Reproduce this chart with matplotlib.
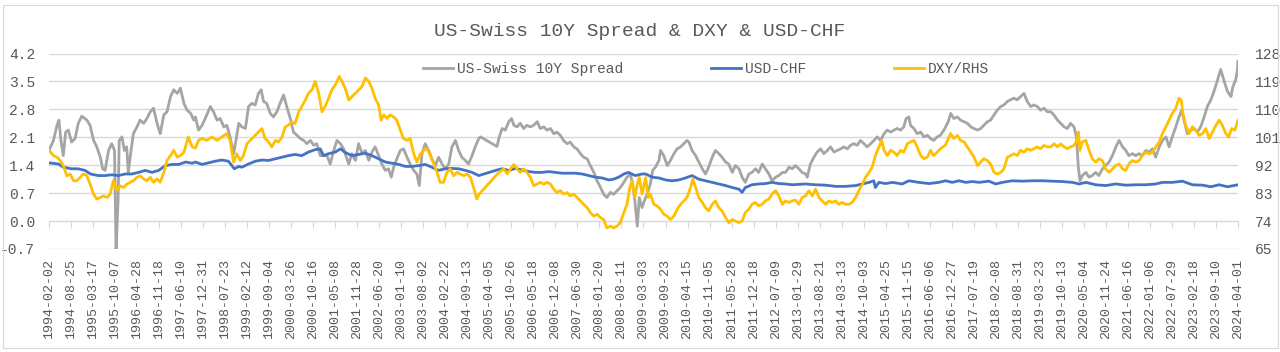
import numpy as np
import pandas as pd
import matplotlib
matplotlib.use("Agg")
import matplotlib.pyplot as plt
from matplotlib.patches import Rectangle

# Du lieu doc tu hinh (nam thap phan -> gia tri)
spread_t = [1994.088, 1994.20, 1994.29, 1994.34, 1994.39, 1994.45, 1994.51, 1994.58, 1994.66, 1994.75,
            1994.83, 1994.92, 1995.05, 1995.13, 1995.22, 1995.30, 1995.39, 1995.45, 1995.51, 1995.60,
            1995.68, 1995.75, 1995.79, 1995.84, 1995.87, 1995.94, 1996.00, 1996.06, 1996.10, 1996.17,
            1996.23, 1996.32, 1996.40, 1996.49, 1996.57, 1996.66, 1996.74, 1996.83, 1996.91, 1997.00,
            1997.08, 1997.17, 1997.25, 1997.34, 1997.42, 1997.51, 1997.59, 1997.68, 1997.76, 1997.80,
            1997.88, 1997.97, 1998.05, 1998.18, 1998.26, 1998.35, 1998.43, 1998.52, 1998.60, 1998.68,
            1998.77, 1998.83, 1998.90, 1998.98, 1999.07, 1999.15, 1999.23, 1999.32, 1999.40, 1999.47,
            1999.53, 1999.61, 1999.70, 1999.78, 1999.87, 1999.95, 2000.04, 2000.12, 2000.21, 2000.29,
            2000.38, 2000.46, 2000.55, 2000.63, 2000.72, 2000.80, 2000.88, 2000.97, 2001.05, 2001.14,
            2001.22, 2001.31, 2001.39, 2001.48, 2001.56, 2001.60, 2001.69, 2001.77, 2001.86, 2001.94,
            2002.03, 2002.11, 2002.20, 2002.28, 2002.36, 2002.45, 2002.53, 2002.62, 2002.70, 2002.77,
            2002.83, 2002.91, 2003.00, 2003.08, 2003.17, 2003.25, 2003.34, 2003.42, 2003.48, 2003.55,
            2003.63, 2003.72, 2003.80, 2003.89, 2003.97, 2004.06, 2004.14, 2004.23, 2004.31, 2004.40,
            2004.48, 2004.56, 2004.65, 2004.73, 2004.82, 2004.90, 2004.99, 2005.03, 2005.45, 2005.51,
            2005.58, 2005.66, 2005.75, 2005.82, 2005.88, 2005.96, 2006.04, 2006.13, 2006.21, 2006.30,
            2006.38, 2006.47, 2006.55, 2006.64, 2006.72, 2006.81, 2006.89, 2006.97, 2007.06, 2007.14,
            2007.23, 2007.31, 2007.40, 2007.48, 2007.57, 2007.65, 2007.74, 2007.82, 2007.91, 2007.99,
            2008.08, 2008.16, 2008.24, 2008.33, 2008.41, 2008.50, 2008.58, 2008.67, 2008.75, 2008.84,
            2008.89, 2008.95, 2009.01, 2009.06, 2009.13, 2009.22, 2009.29, 2009.34, 2009.40, 2009.47,
            2009.56, 2009.60, 2009.68, 2009.77, 2009.85, 2009.94, 2010.02, 2010.11, 2010.19, 2010.27,
            2010.32, 2010.40, 2010.49, 2010.57, 2010.66, 2010.74, 2010.82, 2010.91, 2010.99, 2011.08,
            2011.16, 2011.25, 2011.33, 2011.42, 2011.50, 2011.59, 2011.67, 2011.75, 2011.84, 2011.92,
            2012.01, 2012.09, 2012.18, 2012.26, 2012.35, 2012.43, 2012.52, 2012.60, 2012.69, 2012.77,
            2012.86, 2012.94, 2013.02, 2013.11, 2013.19, 2013.28, 2013.32, 2013.40, 2013.49, 2013.57,
            2013.66, 2013.74, 2013.83, 2013.91, 2014.00, 2014.08, 2014.17, 2014.25, 2014.34, 2014.42,
            2014.50, 2014.59, 2014.67, 2014.76, 2014.84, 2014.93, 2015.01, 2015.10, 2015.18, 2015.27,
            2015.35, 2015.44, 2015.52, 2015.60, 2015.69, 2015.77, 2015.83, 2015.90, 2015.94, 2016.03,
            2016.11, 2016.20, 2016.28, 2016.37, 2016.45, 2016.53, 2016.62, 2016.70, 2016.79, 2016.90,
            2016.96, 2017.04, 2017.13, 2017.21, 2017.30, 2017.38, 2017.47, 2017.55, 2017.64, 2017.72,
            2017.80, 2017.89, 2017.97, 2018.06, 2018.14, 2018.23, 2018.31, 2018.40, 2018.48, 2018.56,
            2018.65, 2018.73, 2018.82, 2018.90, 2018.99, 2019.07, 2019.16, 2019.24, 2019.33, 2019.41,
            2019.50, 2019.58, 2019.67, 2019.75, 2019.84, 2019.92, 2020.00, 2020.09, 2020.15, 2020.20,
            2020.24, 2020.30, 2020.39, 2020.47, 2020.55, 2020.64, 2020.72, 2020.81, 2020.89, 2020.98,
            2021.06, 2021.15, 2021.23, 2021.32, 2021.40, 2021.48, 2021.57, 2021.65, 2021.74, 2021.82,
            2021.91, 2021.99, 2022.08, 2022.16, 2022.25, 2022.33, 2022.42, 2022.50, 2022.58, 2022.67,
            2022.75, 2022.82, 2022.88, 2022.96, 2023.05, 2023.13, 2023.22, 2023.30, 2023.39, 2023.47,
            2023.56, 2023.64, 2023.73, 2023.81, 2023.90, 2023.98, 2024.07, 2024.12, 2024.19, 2024.23,
            2024.25]
spread_v = [1.77, 2.02, 2.40, 2.53, 2.02, 1.64, 2.23, 2.28, 1.98, 2.07,
            2.45, 2.63, 2.53, 2.40, 2.02, 1.86, 1.60, 1.31, 1.27, 1.77,
            1.94, 1.77, -0.75, 0.51, 2.02, 2.11, 1.77, 1.86, 1.22, 1.77,
            2.19, 2.36, 2.53, 2.45, 2.57, 2.74, 2.83, 2.45, 2.19, 2.66,
            2.74, 3.12, 3.29, 3.20, 3.33, 2.95, 2.78, 2.70, 2.53, 2.61,
            2.28, 2.40, 2.57, 2.87, 2.74, 2.53, 2.57, 2.36, 2.40, 2.11,
            1.69, 2.02, 2.45, 2.36, 2.32, 2.87, 2.95, 2.91, 3.20, 3.29,
            3.00, 2.95, 2.70, 2.61, 2.74, 2.95, 3.16, 2.87, 2.57, 2.23,
            2.15, 2.07, 2.02, 1.94, 2.02, 1.90, 1.94, 1.64, 1.64, 1.64,
            1.43, 1.77, 2.02, 1.94, 1.81, 1.69, 1.43, 1.69, 1.52, 1.94,
            1.69, 1.77, 1.52, 1.73, 1.86, 1.64, 1.43, 1.27, 1.31, 1.10,
            1.35, 1.56, 1.77, 1.81, 1.60, 1.43, 1.27, 1.18, 0.89, 1.69,
            1.94, 1.77, 1.56, 1.39, 1.60, 1.43, 1.31, 1.43, 1.86, 2.02,
            1.77, 1.60, 1.52, 1.43, 1.64, 1.86, 2.07, 2.11, 1.87, 2.11,
            2.32, 2.28, 2.49, 2.57, 2.40, 2.36, 2.45, 2.32, 2.40, 2.36,
            2.40, 2.49, 2.32, 2.36, 2.28, 2.32, 2.19, 2.23, 2.15, 2.02,
            1.94, 1.98, 1.86, 1.81, 1.69, 1.60, 1.56, 1.39, 1.22, 1.01,
            0.84, 0.67, 0.59, 0.72, 0.67, 0.76, 0.84, 0.97, 1.10, 1.18,
            0.93, 0.51, -0.13, 0.59, 0.34, 0.59, 0.76, 0.93, 1.27, 1.35,
            1.52, 1.77, 1.64, 1.39, 1.52, 1.69, 1.81, 1.86, 1.94, 2.02,
            1.98, 1.77, 1.64, 1.48, 1.31, 1.18, 1.35, 1.60, 1.77, 1.69,
            1.60, 1.48, 1.43, 1.22, 1.39, 1.31, 1.10, 0.97, 1.18, 1.22,
            1.31, 1.22, 1.43, 1.31, 1.18, 1.01, 1.10, 1.14, 1.22, 1.22,
            1.35, 1.31, 1.39, 1.31, 1.22, 1.18, 1.10, 1.43, 1.60, 1.73,
            1.81, 1.69, 1.77, 1.86, 1.73, 1.77, 1.81, 1.86, 1.81, 1.90,
            1.94, 1.90, 2.02, 1.94, 1.86, 1.94, 2.02, 2.11, 2.02, 2.19,
            2.28, 2.23, 2.28, 2.32, 2.28, 2.36, 2.57, 2.61, 2.40, 2.32,
            2.19, 2.23, 2.11, 2.15, 2.07, 2.02, 2.11, 2.15, 2.28, 2.49,
            2.70, 2.57, 2.61, 2.53, 2.49, 2.45, 2.36, 2.32, 2.28, 2.32,
            2.40, 2.49, 2.53, 2.66, 2.78, 2.87, 2.91, 3.00, 3.04, 3.08,
            3.04, 3.12, 3.20, 3.00, 2.87, 2.91, 2.87, 2.78, 2.83, 2.74,
            2.74, 2.66, 2.53, 2.45, 2.36, 2.32, 2.45, 2.36, 2.11, 1.35,
            1.01, 1.14, 1.22, 1.10, 1.14, 1.22, 1.14, 1.31, 1.39, 1.48,
            1.64, 1.86, 2.02, 1.86, 1.77, 1.64, 1.69, 1.64, 1.69, 1.64,
            1.77, 1.73, 1.81, 1.60, 1.86, 2.02, 2.11, 1.86, 2.11, 2.36,
            2.61, 2.78, 2.53, 2.19, 2.28, 2.32, 2.23, 2.36, 2.61, 2.87,
            3.04, 3.25, 3.54, 3.80, 3.50, 3.25, 3.12, 3.37, 3.54, 3.75,
            4.01]

chf_t = [1994.088, 1994.33, 1994.45, 1994.66, 1994.83, 1995.00, 1995.14, 1995.34, 1995.51, 1995.68,
         1995.85, 1996.02, 1996.19, 1996.36, 1996.53, 1996.70, 1996.87, 1997.04, 1997.21, 1997.38,
         1997.55, 1997.72, 1997.80, 1997.97, 1998.13, 1998.30, 1998.47, 1998.64, 1998.79, 1998.90,
         1998.98, 1999.15, 1999.32, 1999.49, 1999.66, 1999.83, 2000.00, 2000.16, 2000.33, 2000.50,
         2000.67, 2000.84, 2000.97, 2001.05, 2001.18, 2001.35, 2001.48, 2001.60, 2001.77, 2001.94,
         2002.11, 2002.28, 2002.45, 2002.62, 2002.79, 2002.96, 2003.13, 2003.30, 2003.46, 2003.63,
         2003.80, 2003.97, 2004.14, 2004.31, 2004.48, 2004.65, 2004.82, 2004.99, 2005.45, 2005.58,
         2005.75, 2005.92, 2006.09, 2006.26, 2006.43, 2006.59, 2006.76, 2006.93, 2007.10, 2007.27,
         2007.44, 2007.61, 2007.78, 2007.95, 2008.12, 2008.29, 2008.41, 2008.54, 2008.67, 2008.79,
         2008.96, 2009.13, 2009.22, 2009.39, 2009.56, 2009.73, 2009.89, 2010.06, 2010.23, 2010.40,
         2010.57, 2010.74, 2010.91, 2011.08, 2011.25, 2011.42, 2011.59, 2011.67, 2011.75, 2011.92,
         2012.09, 2012.26, 2012.43, 2012.60, 2012.77, 2012.94, 2013.28, 2013.53, 2013.79, 2014.04,
         2014.29, 2014.55, 2014.72, 2014.89, 2015.01, 2015.05, 2015.14, 2015.31, 2015.48, 2015.73,
         2015.90, 2016.15, 2016.41, 2016.66, 2016.83, 2017.00, 2017.17, 2017.34, 2017.51, 2017.68,
         2017.93, 2018.10, 2018.27, 2018.52, 2018.78, 2019.03, 2019.29, 2019.54, 2019.79, 2020.05,
         2020.22, 2020.39, 2020.55, 2020.64, 2020.89, 2021.15, 2021.40, 2021.65, 2021.91, 2022.16,
         2022.33, 2022.58, 2022.84, 2023.09, 2023.35, 2023.56, 2023.77, 2023.98, 2024.25]
chf_v = [1.46, 1.43, 1.35, 1.31, 1.31, 1.27, 1.18, 1.14, 1.14, 1.16,
         1.14, 1.18, 1.18, 1.22, 1.27, 1.22, 1.27, 1.39, 1.42, 1.42,
         1.48, 1.45, 1.48, 1.42, 1.46, 1.50, 1.53, 1.50, 1.31, 1.37,
         1.35, 1.43, 1.50, 1.53, 1.52, 1.56, 1.60, 1.64, 1.67, 1.64,
         1.73, 1.79, 1.81, 1.64, 1.69, 1.73, 1.81, 1.72, 1.64, 1.67,
         1.70, 1.64, 1.56, 1.48, 1.45, 1.42, 1.37, 1.37, 1.39, 1.42,
         1.35, 1.27, 1.31, 1.32, 1.31, 1.27, 1.22, 1.14, 1.28, 1.31,
         1.27, 1.32, 1.28, 1.24, 1.22, 1.22, 1.24, 1.22, 1.20, 1.20,
         1.20, 1.18, 1.14, 1.10, 1.08, 1.03, 1.05, 1.10, 1.18, 1.22,
         1.14, 1.18, 1.18, 1.10, 1.08, 1.03, 1.01, 1.03, 1.08, 1.14,
         1.05, 1.01, 0.97, 0.93, 0.89, 0.84, 0.80, 0.72, 0.84, 0.91,
         0.93, 0.94, 0.97, 0.94, 0.93, 0.91, 0.93, 0.91, 0.90, 0.87,
         0.87, 0.89, 0.93, 0.97, 1.01, 0.84, 0.97, 0.94, 0.97, 0.93,
         1.01, 0.97, 0.94, 0.97, 1.01, 0.97, 1.01, 0.97, 0.99, 0.97,
         1.00, 0.93, 0.97, 1.01, 1.00, 1.01, 1.01, 1.00, 0.99, 0.97,
         0.93, 0.97, 0.93, 0.91, 0.89, 0.93, 0.90, 0.91, 0.91, 0.93,
         0.97, 0.97, 1.00, 0.91, 0.90, 0.86, 0.91, 0.86, 0.91]

dxy_t = [1994.088, 1994.20, 1994.29, 1994.37, 1994.45, 1994.54, 1994.62, 1994.71, 1994.79, 1994.88,
         1994.96, 1995.05, 1995.13, 1995.22, 1995.30, 1995.39, 1995.47, 1995.56, 1995.64, 1995.72,
         1995.81, 1995.89, 1995.98, 1996.06, 1996.15, 1996.23, 1996.32, 1996.40, 1996.49, 1996.57,
         1996.66, 1996.74, 1996.83, 1996.91, 1997.00, 1997.08, 1997.17, 1997.25, 1997.34, 1997.42,
         1997.51, 1997.62, 1997.72, 1997.80, 1997.88, 1997.97, 1998.09, 1998.22, 1998.35, 1998.47,
         1998.60, 1998.68, 1998.77, 1998.85, 1998.94, 1999.02, 1999.11, 1999.19, 1999.28, 1999.36,
         1999.49, 1999.57, 1999.66, 1999.74, 1999.83, 1999.91, 2000.00, 2000.08, 2000.16, 2000.25,
         2000.33, 2000.42, 2000.50, 2000.59, 2000.67, 2000.76, 2000.84, 2000.93, 2001.01, 2001.09,
         2001.18, 2001.26, 2001.35, 2001.45, 2001.52, 2001.60, 2001.69, 2001.77, 2001.90, 2002.03,
         2002.11, 2002.20, 2002.28, 2002.36, 2002.45, 2002.51, 2002.58, 2002.66, 2002.74, 2002.83,
         2002.91, 2003.00, 2003.08, 2003.17, 2003.25, 2003.34, 2003.42, 2003.51, 2003.59, 2003.68,
         2003.76, 2003.85, 2003.93, 2004.01, 2004.10, 2004.18, 2004.27, 2004.35, 2004.44, 2004.52,
         2004.61, 2004.69, 2004.78, 2004.86, 2004.94, 2005.00, 2005.50, 2005.62, 2005.71, 2005.79,
         2005.88, 2005.96, 2006.04, 2006.13, 2006.21, 2006.30, 2006.38, 2006.47, 2006.55, 2006.64,
         2006.72, 2006.81, 2006.89, 2006.97, 2007.06, 2007.14, 2007.23, 2007.31, 2007.40, 2007.48,
         2007.57, 2007.65, 2007.74, 2007.82, 2007.91, 2007.99, 2008.08, 2008.16, 2008.24, 2008.33,
         2008.41, 2008.50, 2008.58, 2008.67, 2008.75, 2008.82, 2008.88, 2008.95, 2009.01, 2009.06,
         2009.13, 2009.22, 2009.29, 2009.34, 2009.43, 2009.51, 2009.60, 2009.68, 2009.77, 2009.85,
         2009.94, 2010.02, 2010.11, 2010.19, 2010.27, 2010.36, 2010.42, 2010.49, 2010.57, 2010.66,
         2010.74, 2010.82, 2010.91, 2010.99, 2011.08, 2011.16, 2011.25, 2011.33, 2011.42, 2011.50,
         2011.59, 2011.67, 2011.75, 2011.84, 2011.92, 2012.01, 2012.09, 2012.18, 2012.26, 2012.35,
         2012.43, 2012.52, 2012.60, 2012.69, 2012.77, 2012.86, 2012.94, 2013.02, 2013.11, 2013.19,
         2013.28, 2013.36, 2013.45, 2013.53, 2013.62, 2013.70, 2013.79, 2013.87, 2013.95, 2014.04,
         2014.12, 2014.21, 2014.29, 2014.38, 2014.46, 2014.55, 2014.63, 2014.72, 2014.80, 2014.89,
         2014.97, 2015.05, 2015.14, 2015.21, 2015.27, 2015.35, 2015.44, 2015.52, 2015.60, 2015.69,
         2015.77, 2015.86, 2015.94, 2016.03, 2016.11, 2016.20, 2016.28, 2016.37, 2016.45, 2016.53,
         2016.62, 2016.70, 2016.83, 2016.90, 2016.96, 2017.04, 2017.13, 2017.21, 2017.30, 2017.38,
         2017.47, 2017.55, 2017.64, 2017.72, 2017.80, 2017.89, 2017.97, 2018.06, 2018.14, 2018.23,
         2018.31, 2018.40, 2018.48, 2018.56, 2018.65, 2018.73, 2018.82, 2018.90, 2018.99, 2019.07,
         2019.16, 2019.24, 2019.33, 2019.41, 2019.50, 2019.58, 2019.67, 2019.75, 2019.84, 2019.92,
         2020.00, 2020.09, 2020.16, 2020.20, 2020.24, 2020.30, 2020.39, 2020.47, 2020.55, 2020.64,
         2020.72, 2020.81, 2020.89, 2020.98, 2021.06, 2021.15, 2021.23, 2021.32, 2021.40, 2021.48,
         2021.57, 2021.65, 2021.74, 2021.82, 2021.91, 2021.99, 2022.08, 2022.16, 2022.25, 2022.33,
         2022.42, 2022.50, 2022.58, 2022.67, 2022.75, 2022.81, 2022.85, 2022.92, 2023.01, 2023.09,
         2023.18, 2023.26, 2023.35, 2023.43, 2023.52, 2023.60, 2023.69, 2023.77, 2023.85, 2023.94,
         2024.01, 2024.09, 2024.17, 2024.25]
dxy_v = [96.8, 95.1, 94.6, 93.5, 91.9, 88.6, 89.2, 87.0, 87.0, 88.1,
         89.2, 88.6, 85.9, 82.7, 81.1, 81.6, 82.1, 81.6, 82.7, 87.0,
         83.8, 85.4, 84.8, 85.9, 86.5, 87.0, 88.1, 88.6, 87.6, 87.0,
         88.1, 86.5, 87.6, 86.5, 89.7, 93.5, 95.1, 96.8, 94.6, 95.1,
         96.2, 101.1, 97.9, 97.5, 100.0, 100.6, 100.0, 101.1, 100.0, 101.1,
         102.2, 100.0, 93.0, 95.7, 93.5, 95.1, 98.9, 100.0, 101.1, 102.2,
         103.8, 100.6, 99.5, 97.9, 100.0, 99.5, 101.1, 104.3, 104.9, 106.0,
         105.4, 109.2, 110.9, 113.0, 115.2, 116.3, 119.0, 115.2, 109.2, 110.9,
         113.6, 116.3, 117.9, 120.6, 119.0, 116.8, 113.0, 114.1, 115.7, 117.4,
         120.1, 119.0, 116.8, 113.6, 111.4, 106.5, 108.2, 107.1, 108.2, 107.6,
         106.5, 103.3, 100.6, 100.0, 100.6, 95.7, 93.0, 95.7, 96.8, 97.3,
         95.1, 92.4, 89.7, 86.5, 86.5, 89.7, 90.8, 88.6, 89.7, 89.2,
         88.6, 89.2, 88.1, 84.8, 81.1, 82.7, 89.7, 90.8, 89.2, 90.8,
         92.2, 90.8, 89.7, 90.8, 89.7, 88.1, 85.4, 85.9, 86.5, 85.9,
         86.5, 85.9, 84.3, 83.2, 83.8, 82.7, 83.2, 82.1, 82.7, 81.6,
         80.5, 79.4, 78.3, 76.7, 75.6, 76.2, 75.1, 74.5, 71.8, 72.4,
         71.8, 72.4, 73.5, 76.7, 79.4, 84.8, 87.0, 81.6, 85.9, 88.1,
         82.7, 88.0, 81.6, 82.7, 79.4, 78.9, 77.8, 76.2, 75.6, 74.5,
         75.6, 77.8, 79.4, 80.5, 81.6, 84.8, 87.6, 84.8, 81.6, 80.0,
         78.3, 77.3, 79.4, 80.5, 78.3, 77.3, 75.1, 73.5, 74.5, 74.0,
         73.5, 74.0, 76.7, 77.8, 79.4, 80.0, 78.9, 79.4, 80.5, 81.1,
         82.7, 83.8, 82.1, 79.4, 80.5, 80.0, 80.5, 80.8, 79.4, 81.6,
         82.1, 83.8, 82.1, 84.3, 81.6, 80.5, 79.4, 80.5, 80.0, 80.5,
         79.4, 80.0, 79.4, 79.4, 80.0, 81.6, 83.8, 85.9, 88.1, 89.7,
         91.4, 95.1, 97.9, 100.0, 96.8, 95.1, 96.8, 96.2, 95.1, 96.8,
         96.2, 98.9, 99.5, 100.0, 97.9, 95.1, 94.1, 94.6, 96.8, 95.1,
         96.2, 97.3, 98.5, 100.6, 102.2, 100.6, 101.6, 100.0, 99.5, 97.9,
         96.2, 94.6, 91.9, 93.0, 94.1, 93.5, 92.4, 89.7, 89.2, 89.7,
         90.8, 94.6, 95.1, 95.7, 95.1, 96.8, 96.2, 97.3, 96.8, 97.3,
         97.9, 97.3, 98.4, 97.9, 97.9, 98.9, 97.9, 98.9, 97.9, 97.3,
         97.9, 98.4, 100.0, 102.7, 96.8, 99.5, 100.0, 96.8, 94.1, 93.0,
         94.1, 93.5, 90.8, 89.7, 90.8, 91.9, 92.4, 90.8, 90.3, 92.4,
         93.5, 93.0, 93.5, 95.1, 96.2, 95.7, 96.2, 97.9, 99.5, 102.2,
         104.4, 106.5, 108.7, 110.3, 113.6, 113.0, 108.7, 104.9, 102.2, 104.4,
         103.3, 101.6, 102.2, 103.8, 100.6, 102.7, 104.9, 106.5, 104.9, 102.2,
         101.1, 103.8, 103.3, 106.5]

series_names = ["US-Swiss 10Y Spread", "USD-CHF", "DXY/RHS"]
series_colors = ["#a5a5a5", "#4472c4", "#ffc000"]
left_ticks = [-0.7, 0.0, 0.7, 1.4, 2.1, 2.8, 3.5, 4.2]
right_ticks = [65, 74, 83, 92, 101, 110, 119, 128]
tick_start = "1994-02-02"
tick_count = 55
tick_step_days = 204

W, H = 1280, 352
FONT = "Liberation Mono"
TEXT = "#595959"
GRID = "#d9d9d9"
LW = 2.0


def to_dates(years):
    out = []
    for y in years:
        whole = int(y)
        out.append(pd.Timestamp(f"{whole}-01-01") + pd.Timedelta(days=(y - whole) * 365.25))
    return out


def main():
    fig = plt.figure(figsize=(W / 100, H / 100), dpi=100)
    fig.patch.set_facecolor("white")

    # khung bieu do
    fig.add_artist(Rectangle((3 / W, 1 - 348 / H), 1275 / W, 343 / H, transform=fig.transFigure,
                             fill=False, edgecolor=GRID, lw=0.8))

    ax = fig.add_axes([49 / W, 1 - 249 / H, (1238 - 49) / W, (249 - 53.5) / H])
    ax2 = ax.twinx()

    l1, = ax.plot(to_dates(spread_t), spread_v, color=series_colors[0], lw=LW)
    l2, = ax.plot(to_dates(chf_t), chf_v, color=series_colors[1], lw=LW)
    l3, = ax2.plot(to_dates(dxy_t), dxy_v, color=series_colors[2], lw=LW)

    ticks = pd.date_range(tick_start, periods=tick_count, freq=f"{tick_step_days}D")
    ax.set_xlim(ticks[0], ticks[-1])
    ax.set_xticks(ticks)
    ax.set_xticklabels([d.strftime("%Y-%m-%d") for d in ticks], rotation=90,
                       family=FONT, fontsize=9.6, color=TEXT)
    ax.tick_params(axis="x", length=0, pad=7)

    ax.set_ylim(left_ticks[0], left_ticks[-1])
    ax.set_yticks(left_ticks)
    ax.set_yticklabels([f"{v:.1f}" for v in left_ticks], family=FONT, fontsize=10.5, color=TEXT)
    ax.tick_params(axis="y", length=0, pad=10)
    ax.grid(axis="y", color=GRID, lw=1)
    ax.set_axisbelow(True)

    ax2.set_ylim(right_ticks[0], right_ticks[-1])
    ax2.set_yticks(right_ticks)
    ax2.set_yticklabels([str(v) for v in right_ticks], family=FONT, fontsize=10.5, color=TEXT)
    ax2.tick_params(axis="y", length=0, pad=12)

    for a in (ax, ax2):
        for s in a.spines.values():
            s.set_visible(False)

    # truc x cat o 0
    zero_pos = (0 - left_ticks[0]) / (left_ticks[-1] - left_ticks[0])
    sec = ax.secondary_xaxis(zero_pos)
    sec.set_xticks(ticks)
    sec.tick_params(length=5, color=GRID, labelbottom=False)
    sec.spines["bottom"].set_color(GRID)

    fig.text(640 / W, 1 - 32 / H, "US-Swiss 10Y Spread & DXY & USD-CHF", ha="center", va="center",
             family=FONT, fontsize=14, color=TEXT)

    fig.legend([l1, l2, l3], series_names, loc="center", bbox_to_anchor=(706 / W, 1 - 69 / H),
               ncol=3, frameon=False, prop={"family": FONT, "size": 10.5}, labelcolor=TEXT,
               handlelength=2.05, handletextpad=0.3, columnspacing=6.0)

    fig.savefig("out.png", dpi=100)


if __name__ == "__main__":
    main()
